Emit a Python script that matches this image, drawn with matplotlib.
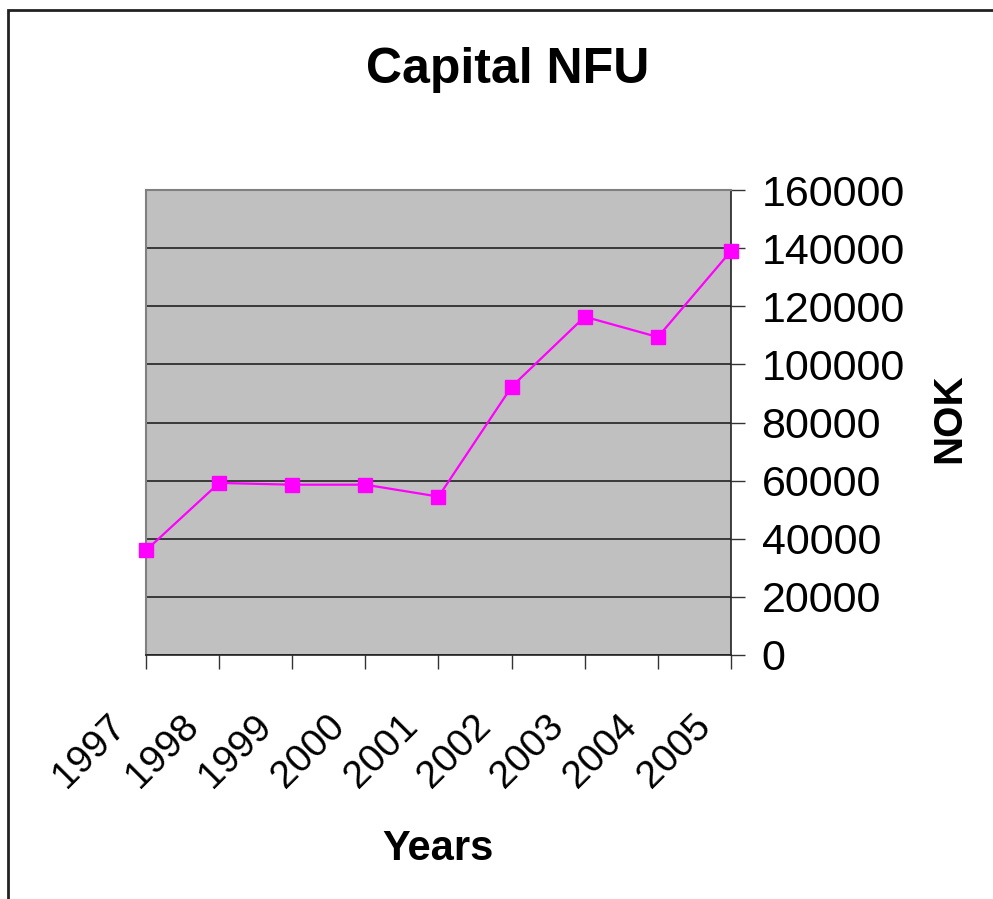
import matplotlib
matplotlib.use("Agg")
from matplotlib import pyplot as plt, patches, transforms

plt.rcParams['font.family'] = ['Liberation Sans', 'DejaVu Sans']

years = ['1997', '1998', '1999', '2000', '2001', '2002', '2003', '2004', '2005']
capital = [36000, 59200, 58600, 58600, 54500, 92300, 116400, 109400, 139000]
y_ticks = [0, 20000, 40000, 60000, 80000, 100000, 120000, 140000, 160000]

fig = plt.figure(figsize=(9.93, 8.99), dpi=100)
ax = fig.add_axes([146 / 993, 244 / 899, 585 / 993, 465 / 899])
ax.set_facecolor('#c0c0c0')

x = list(range(len(years)))
ax.plot(x, capital, color='#ff00ff', lw=1.6, marker='s', ms=9.5, zorder=3, clip_on=False)

ax.set_xlim(0, len(years) - 1)
ax.set_ylim(0, 160000)
ax.set_xticks(x)
ax.set_xticklabels(years, rotation=45, ha='right', va='top', rotation_mode='anchor', fontsize=28)
ax.set_yticks(y_ticks)
ax.set_yticklabels([str(v) for v in y_ticks], fontsize=31)
ax.yaxis.tick_right()
ax.tick_params(axis='x', direction='out', length=10, width=1, color='#333333', pad=12)
ax.tick_params(axis='y', direction='out', length=10, width=1, color='#333333', pad=12)
ax.grid(axis='y', color='#222222', lw=1.2)
ax.set_axisbelow(True)

# shift the year labels down-left like the original
shift = transforms.ScaledTranslation(-39 / 100, -22 / 100, fig.dpi_scale_trans)
for lab in ax.get_xticklabels():
    lab.set_transform(lab.get_transform() + shift)

for side in ['left', 'top']:
    ax.spines[side].set_color('#808080')
    ax.spines[side].set_linewidth(1.5)
for side in ['right', 'bottom']:
    ax.spines[side].set_color('#222222')
    ax.spines[side].set_linewidth(1.2)

ax.set_ylabel('NOK', fontsize=29, fontweight='bold', rotation=90, ha='center', va='center')
ax.yaxis.set_label_position('right')
ax.yaxis.set_label_coords((930 - 146) / 585, (655 - 418) / 465)
ax.set_xlabel('Years', fontsize=30, fontweight='bold', va='center')
ax.xaxis.set_label_coords(0.5, (655 - 849) / 465)
fig.text(508 / 993, 1 - 70 / 899, 'Capital NFU', fontsize=36, fontweight='bold', ha='center', va='center')

# chart border (only top and left edges are visible)
fig.patches.append(patches.Rectangle((8 / 993, -0.1), 1.2, 1 - 10 / 899 + 0.1, transform=fig.transFigure,
                                     fill=False, edgecolor='#222222', lw=2))

fig.savefig('out.png', dpi=100)
